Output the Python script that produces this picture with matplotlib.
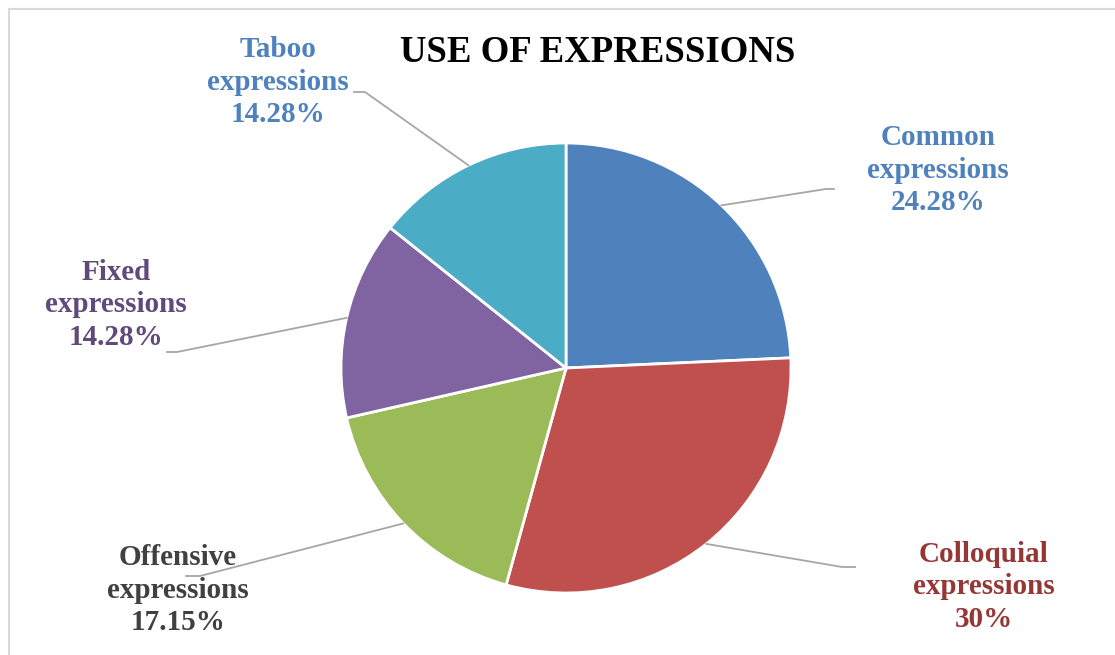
import numpy as np
import matplotlib.pyplot as plt
from matplotlib.patches import Rectangle

# ----- DATA -----
categories = ["Common\nexpressions", "Colloquial\nexpressions", "Offensive\nexpressions",
              "Fixed\nexpressions", "Taboo\nexpressions"]
shares = [24.28, 30, 17.15, 14.28, 14.28]
share_labels = ["24.28%", "30%", "17.15%", "14.28%", "14.28%"]

wedge_colors = ["#4F81BD", "#C0504D", "#9BBB59", "#8064A2", "#4BACC6"]
text_colors = ["#4F81BD", "#953735", "#404040", "#604A7B", "#4F81BD"]

W, H = 1115, 655
plt.rcParams['font.family'] = ['Liberation Serif', 'DejaVu Serif']

fig = plt.figure(figsize=(W / 100, H / 100), dpi=100)
ax = fig.add_axes([0, 0, 1, 1])

# chart area border
fig.patches.append(Rectangle((9 / W, -0.05), 1.2, (H - 9) / H + 0.05, transform=fig.transFigure,
                             fill=False, edgecolor="#D9D9D9", linewidth=1.5))

cx, cy, r = 566, H - 368, 225
wedges, _ = ax.pie(shares, colors=wedge_colors, startangle=90, counterclock=False,
                   center=(cx, cy), radius=r, frame=True,
                   wedgeprops=dict(edgecolor="white", linewidth=2))
ax.set_xlim(0, W)
ax.set_ylim(0, H)
ax.set_aspect('equal')
ax.axis('off')

# label placement (pixel coords, y from top): text centre, elbow, line end
label_pos = [(938, 170), (984, 587), (178, 590), (116, 305), (278, 82)]
elbows = [(826, 189), (842, 567), (200, 576), (177, 352), (365, 92)]
ends = [(834, 189), (855, 567), (186, 576), (167, 352), (354, 92)]

for i, w in enumerate(wedges):
    # leader starts at the middle of the wedge's arc
    mid = np.deg2rad((w.theta1 + w.theta2) / 2)
    x0, y0 = cx + r * np.cos(mid), cy + r * np.sin(mid)
    ex, ey = elbows[i]
    fx, fy = ends[i]
    ax.plot([x0, ex, fx], [y0, H - ey, H - fy], color="#A6A6A6", linewidth=1.3,
            solid_joinstyle='miter')
    tx, ty = label_pos[i]
    ax.text(tx, H - ty, categories[i] + "\n" + share_labels[i], ha='center', va='center',
            fontsize=21, fontweight='bold', color=text_colors[i], linespacing=1.25)

ax.text(598, H - 53, "USE OF EXPRESSIONS", ha='center', va='center',
        fontsize=26.5, fontweight='bold', color='black')

fig.savefig("out.png", dpi=100)
